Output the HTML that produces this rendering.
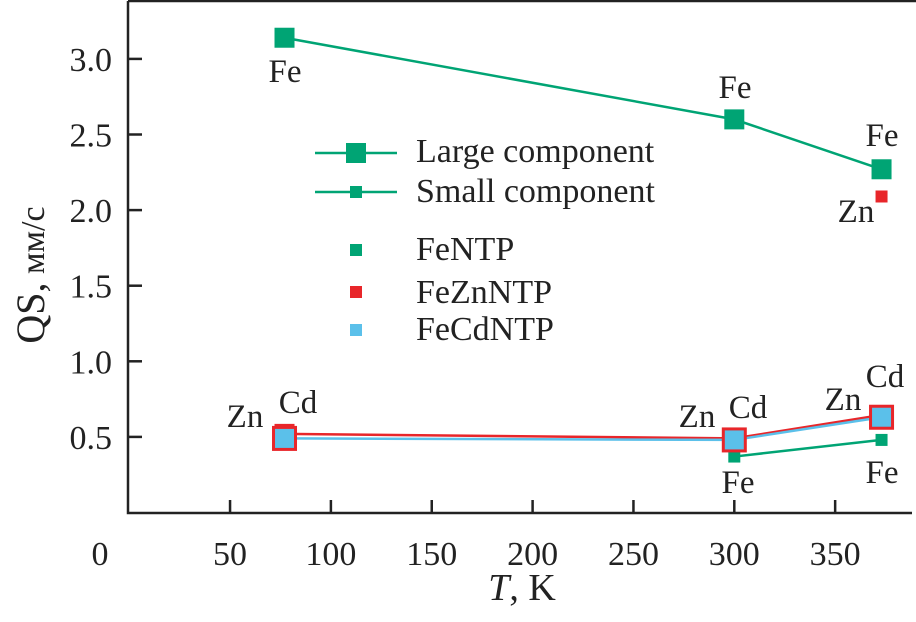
<!DOCTYPE html>
<html><head><meta charset="utf-8"><style>
body{margin:0;background:#fff}
svg{display:block;font-family:"Liberation Serif",serif}
</style></head><body>
<svg id="chart" width="916" height="622" viewBox="0 0 916 622">
<g id="axes"></g><g id="marks"></g><g id="legend"></g>
</svg>
<script>
const xTicks=[50,100,150,200,250,300,350];
const yTicks=[0.5,1.0,1.5,2.0,2.5,3.0];
const temps=[77,300,373];
const largeFe=[3.14,2.60,2.27];
const smallFe=[null,0.37,0.48];
const largeZn=[0.52,0.49,0.645];
const smallZn=[null,null,2.09];
const largeCd=[0.49,0.48,0.63];
const NS='http://www.w3.org/2000/svg';
const X=t=>129.2+t*2.017;
const Y=v=>512.5-v*151.2;
function mk(tag,attrs,parent,txt){const e=document.createElementNS(NS,tag);for(const k in attrs)e.setAttribute(k,attrs[k]);if(txt!==undefined)e.textContent=txt;parent.appendChild(e);return e;}
const axes=document.getElementById('axes'),marks=document.getElementById('marks'),leg=document.getElementById('legend');
let e;
e=mk('path',{d:'M128,1 H916 M128,1 V513 H912',fill:'none',stroke:'#222','stroke-width':2.5},axes);


xTicks.forEach(t=>{
 e=mk('line',{x1:X(t),x2:X(t),y1:513,y2:500,stroke:'#222','stroke-width':2.5},axes);
 
 
 e=mk('text',{x:X(t),y:565,'font-size':34,'text-anchor':'middle',fill:'#222'},axes,String(t));
 
 
});
e=mk('text',{x:100,y:565,'font-size':34,'text-anchor':'middle',fill:'#222'},axes,'0');


yTicks.forEach(v=>{
 e=mk('line',{x1:128,x2:142,y1:Y(v),y2:Y(v),stroke:'#222','stroke-width':2.5},axes);
 
 
 e=mk('text',{x:112,y:Y(v)+12,'font-size':34,'text-anchor':'end',fill:'#222'},axes,v.toFixed(1));
 
 
});
e=mk('text',{x:522,y:600,'font-size':38,'text-anchor':'middle',fill:'#222'},axes,'');
e.innerHTML='<tspan font-style="italic">T</tspan>, K';


e=mk('text',{x:0,y:0,'font-size':34,'text-anchor':'middle',fill:'#222',transform:'translate(44,275) rotate(-90)'},axes,'');
e.innerHTML='<tspan font-size="40">QS,</tspan> мм/с';



function series(vals,color,w,size,name,border){
 const pts=[];vals.forEach((v,i)=>{if(v!==null)pts.push([X(temps[i]),Y(v)]);});
 if(pts.length>1){e=mk('polyline',{points:pts.map(p=>p.join(',')).join(' '),fill:'none',stroke:color,'stroke-width':w},marks);
 
 }
 pts.forEach(p=>{
  if(border){e=mk('rect',{x:p[0]-size/2-3,y:p[1]-size/2-3,width:size+6,height:size+6,fill:border},marks);
  
  }
  e=mk('rect',{x:p[0]-size/2,y:p[1]-size/2,width:size,height:size,fill:color},marks);
  
  
 });
}
series(largeFe,'#00a474',2.5,20,'fe-large');
series(smallFe,'#00a474',2.5,12,'fe-small');
series(largeZn,'#e8262a',2.5,20,'zn-large');
series(smallZn,'#e8262a',2,12,'zn-small');
series(largeCd,'#5bc0ea',2.5,19,'cd-large','#e8262a');

const labels=[['Fe',285,82],['Fe',735,98],['Fe',882,146],['Zn',856,222],['Zn',245,427],['Cd',298,413],['Zn',697,427],['Cd',748,418],['Fe',738,493],['Zn',843,410],['Cd',885,387],['Fe',882,483]];
labels.forEach(l=>{e=mk('text',{x:l[1],y:l[2],'font-size':33,'text-anchor':'middle',fill:'#222'},marks,l[0]);
 
 });

const legItems=[['Large component',153,20,true],['Small component',192,12,true],['FeNTP',250,12,false],['FeZnNTP',292,12,false],['FeCdNTP',330,12,false]];
const legBase=[162,202,260,303,340];
const legColors=['#00a474','#00a474','#00a474','#e8262a','#5bc0ea'];
legItems.forEach((it,i)=>{
 if(it[3]){e=mk('line',{x1:315,x2:397,y1:it[1],y2:it[1],stroke:legColors[i],'stroke-width':2.5},leg);
 
 }
 e=mk('rect',{x:356-it[2]/2,y:it[1]-it[2]/2,width:it[2],height:it[2],fill:legColors[i]},leg);
 
 
 e=mk('text',{x:416,y:legBase[i],'font-size':34,fill:'#222'},leg,it[0]);
 
 
});
</script>
</body></html>
